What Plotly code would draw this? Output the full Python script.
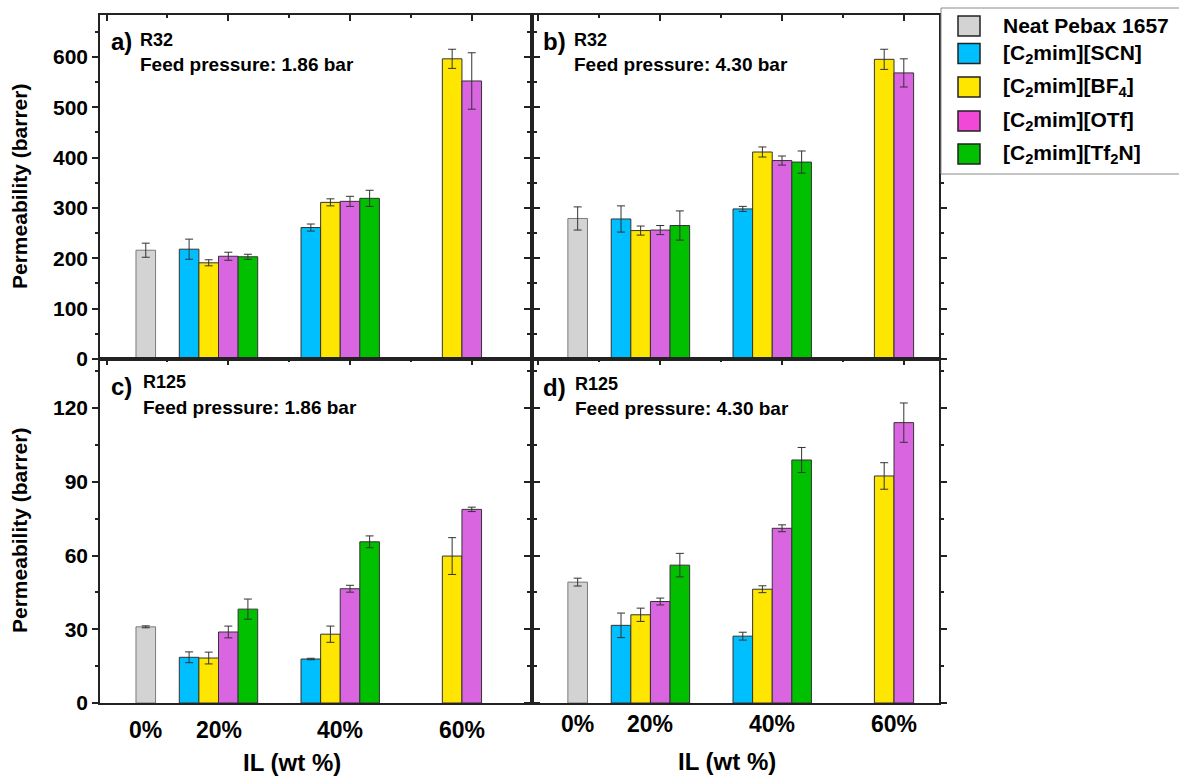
import plotly.graph_objects as go

# ---------------- data ----------------
categories = ['0%', '20%', '40%', '60%']
series_names = ['Neat Pebax 1657',
                '[C<sub>2</sub>mim][SCN]',
                '[C<sub>2</sub>mim][BF<sub>4</sub>]',
                '[C<sub>2</sub>mim][OTf]',
                '[C<sub>2</sub>mim][Tf<sub>2</sub>N]']
bar_colors = ['#D3D3D3', '#00BFFF', '#FFE600', '#D966E0', '#00C000']
legend_colors = ['#D3D3D3', '#00BFFF', '#FFE600', '#F248D8', '#00C000']

# rows: Neat, SCN, BF4, OTf, Tf2N ; columns: categories
r32_186 = [[216, None, None, None],
           [None, 218, 261, None],
           [None, 191, 311, 596],
           [None, 204, 313, 552],
           [None, 203, 319, None]]
r32_186_err = [[14, None, None, None],
               [None, 20, 7, None],
               [None, 6, 7, 19],
               [None, 8, 10, 56],
               [None, 5, 16, None]]

r32_430 = [[279, None, None, None],
           [None, 278, 298, None],
           [None, 255, 411, 595],
           [None, 256, 394, 568],
           [None, 265, 391, None]]
r32_430_err = [[23, None, None, None],
               [None, 26, 5, None],
               [None, 9, 10, 20],
               [None, 9, 9, 28],
               [None, 29, 22, None]]

r125_186 = [[31.0, None, None, None],
            [None, 18.6, 17.9, None],
            [None, 18.3, 28.0, 59.8],
            [None, 28.9, 46.5, 78.8],
            [None, 38.2, 65.6, None]]
r125_186_err = [[0.4, None, None, None],
                [None, 2.2, 0.3, None],
                [None, 2.4, 3.3, 7.5],
                [None, 2.4, 1.4, 0.9],
                [None, 4.1, 2.4, None]]

r125_430 = [[49.2, None, None, None],
            [None, 31.6, 27.2, None],
            [None, 35.9, 46.3, 92.4],
            [None, 41.3, 71.1, 114.1],
            [None, 56.1, 98.9, None]]
r125_430_err = [[1.6, None, None, None],
                [None, 5.0, 1.6, None],
                [None, 2.7, 1.4, 5.4],
                [None, 1.4, 1.4, 8.0],
                [None, 4.8, 5.1, None]]

panel_letters = ['a)', 'b)', 'c)', 'd)']
gases = ['R32', 'R32', 'R125', 'R125']
pressures = ['Feed pressure: 1.86 bar', 'Feed pressure: 4.30 bar',
             'Feed pressure: 1.86 bar', 'Feed pressure: 4.30 bar']
x_title = 'IL (wt %)'
y_title = 'Permeability (barrer)'

# ---------------- layout geometry (pixels) ----------------
W, H = 1179, 778
def px(x):
    return x / W
def py(y):
    return 1 - y / H

FONT = 'Liberation Sans, Arial, sans-serif'
LINE = '#222222'
BARGAP = 0.195
trace_order = [1, 2, 3, 4, 0]   # grouping slots (Neat drawn in last slot)
n_slots = len(trace_order)
slot = (1 - BARGAP) / n_slots

panels = [
    dict(vals=r32_186, errs=r32_186_err, ax='', xdom=(100, 532), ydom=(359, 15),
         xr=(-0.054, 3.495), yr=(0, 683), dt=100, labels=True, lab_y=730, tit=(292, 762),
         txt=(109, 138, 42, 40, 64)),
    dict(vals=r32_430, errs=r32_430_err, ax='2', xdom=(532, 939), ydom=(359, 15),
         xr=(-0.053, 3.289), yr=(0, 683), dt=100, labels=False, lab_y=724, tit=(727, 761),
         txt=(541, 572, 42, 40, 64)),
    dict(vals=r125_186, errs=r125_186_err, ax='3', xdom=(100, 532), ydom=(703, 359),
         xr=(-0.054, 3.495), yr=(0, 140), dt=30, labels=True, lab_y=730, tit=(292, 762),
         txt=(109, 141, 386, 382, 407)),
    dict(vals=r125_430, errs=r125_430_err, ax='4', xdom=(532, 939), ydom=(703, 359),
         xr=(-0.053, 3.289), yr=(0, 140), dt=30, labels=False, lab_y=724, tit=(727, 761),
         txt=(541, 573, 387, 384, 408)),
]

fig = go.Figure()
annotations = []
shapes = []
xs = list(range(len(categories)))

for pi, p in enumerate(panels):
    xa = 'x' + p['ax']
    ya = 'y' + p['ax']
    for s in trace_order:
        fig.add_trace(go.Bar(
            x=xs, y=p['vals'][s], name=series_names[s],
            xaxis=xa, yaxis=ya, showlegend=False,
            marker=dict(color=bar_colors[s],
                        line=dict(color='#7a7a7a' if s == 0 else '#333333', width=1)),
            error_y=dict(type='data', array=p['errs'][s], visible=True,
                         color='#333333', thickness=1, width=4),
        ))
    key = p['ax']
    fig.update_layout(**{
        'xaxis' + key: dict(domain=[px(p['xdom'][0]), px(p['xdom'][1])], range=list(p['xr']),
                            anchor=ya, side='top', ticks='inside', ticklen=6, tickwidth=1.5,
                            tickcolor=LINE, tick0=0, dtick=1,
                            minor=dict(ticks='inside', ticklen=3, dtick=0.5, tickcolor=LINE, tickwidth=1.5),
                            showticklabels=False, showline=True, linecolor=LINE, linewidth=1.5,
                            mirror=True, showgrid=False, zeroline=False),
        'yaxis' + key: dict(domain=[py(p['ydom'][0]), py(p['ydom'][1])], range=list(p['yr']),
                            anchor=xa, ticks='outside', ticklen=6, tickwidth=1.5, tickcolor=LINE,
                            tick0=0, dtick=p['dt'],
                            minor=dict(ticks='outside', ticklen=3, dtick=p['dt'] / 2,
                                       tickcolor=LINE, tickwidth=1.5),
                            showticklabels=p['labels'],
                            tickfont=dict(size=21, family=FONT, color='black', weight='bold'),
                            showline=True, linecolor=LINE, linewidth=1.5, mirror='ticks',
                            showgrid=False, zeroline=False),
    })
    # panel texts
    lx, tx, ly, gy, fy = p['txt']
    annotations.append(dict(text=panel_letters[pi], xref='paper', yref='paper', x=px(lx), y=py(ly),
                            xanchor='left', yanchor='middle', showarrow=False,
                            font=dict(size=24, family=FONT, color='black', weight='bold')))
    annotations.append(dict(text=gases[pi], xref='paper', yref='paper', x=px(tx), y=py(gy),
                            xanchor='left', yanchor='middle', showarrow=False,
                            font=dict(size=18, family=FONT, color='black', weight='bold')))
    annotations.append(dict(text=pressures[pi], xref='paper', yref='paper', x=px(tx), y=py(fy),
                            xanchor='left', yanchor='middle', showarrow=False,
                            font=dict(size=19, family=FONT, color='black', weight='bold')))
    # category labels under the bars (bottom panels only)
    if pi >= 2:
        for ci, cat in enumerate(categories):
            present = [k for k, s in enumerate(trace_order) if p['vals'][s][ci] is not None]
            off = sum((k - (n_slots - 1) / 2) * slot for k in present) / len(present)
            annotations.append(dict(text=cat, xref=xa, yref='paper', x=ci + off, y=py(p['lab_y']),
                                    xanchor='center', yanchor='middle', showarrow=False,
                                    font=dict(size=23, family=FONT, color='black', weight='bold')))
        annotations.append(dict(text=x_title, xref='paper', yref='paper', x=px(p['tit'][0]),
                                y=py(p['tit'][1]), xanchor='center', yanchor='middle', showarrow=False,
                                font=dict(size=24, family=FONT, color='black', weight='bold')))

# y titles
for yc in (187, 531):
    annotations.append(dict(text=y_title, xref='paper', yref='paper', x=px(19), y=py(yc),
                            xanchor='center', yanchor='middle', textangle=-90, showarrow=False,
                            font=dict(size=21, family=FONT, color='black', weight='bold')))

# legend (drawn box, open on the right like the reference crop)
lx0, lx1, ly0, ly1 = px(941), 1.0, py(174), py(8)
shapes.append(dict(type='rect', xref='paper', yref='paper', x0=lx0, x1=lx1,
                   y0=ly0, y1=ly1, line=dict(width=0), fillcolor='white', layer='above'))
for (xa0, ya0, xa1, ya1) in [(lx0, ly1, lx1, ly1), (lx0, ly0, lx1, ly0), (lx0, ly0, lx0, ly1)]:
    shapes.append(dict(type='line', xref='paper', yref='paper', x0=xa0, y0=ya0, x1=xa1, y1=ya1,
                       line=dict(color='#8a8a8a', width=1), layer='above'))
leg_y = [26, 53.5, 87, 121, 154]
for i, name in enumerate(series_names):
    yc = leg_y[i]
    shapes.append(dict(type='rect', xref='paper', yref='paper', x0=px(958), x1=px(980),
                       y0=py(yc + 10), y1=py(yc - 10), fillcolor=legend_colors[i],
                       line=dict(color='#222222', width=1.5), layer='above'))
    annotations.append(dict(text=name, xref='paper', yref='paper', x=px(1001), y=py(yc),
                            xanchor='left', yanchor='middle', showarrow=False,
                            font=dict(size=21, family=FONT, color='black', weight='bold')))

fig.update_layout(
    width=W, height=H, margin=dict(l=0, r=0, t=0, b=0, autoexpand=False),
    barmode='group', bargap=BARGAP, bargroupgap=0,
    plot_bgcolor='white', paper_bgcolor='white',
    font=dict(family=FONT, color='black', weight='bold'),
    showlegend=False, annotations=annotations, shapes=shapes,
)

fig.write_html('out.html', include_plotlyjs=True, full_html=True,
               config={'responsive': False, 'displayModeBar': False})
